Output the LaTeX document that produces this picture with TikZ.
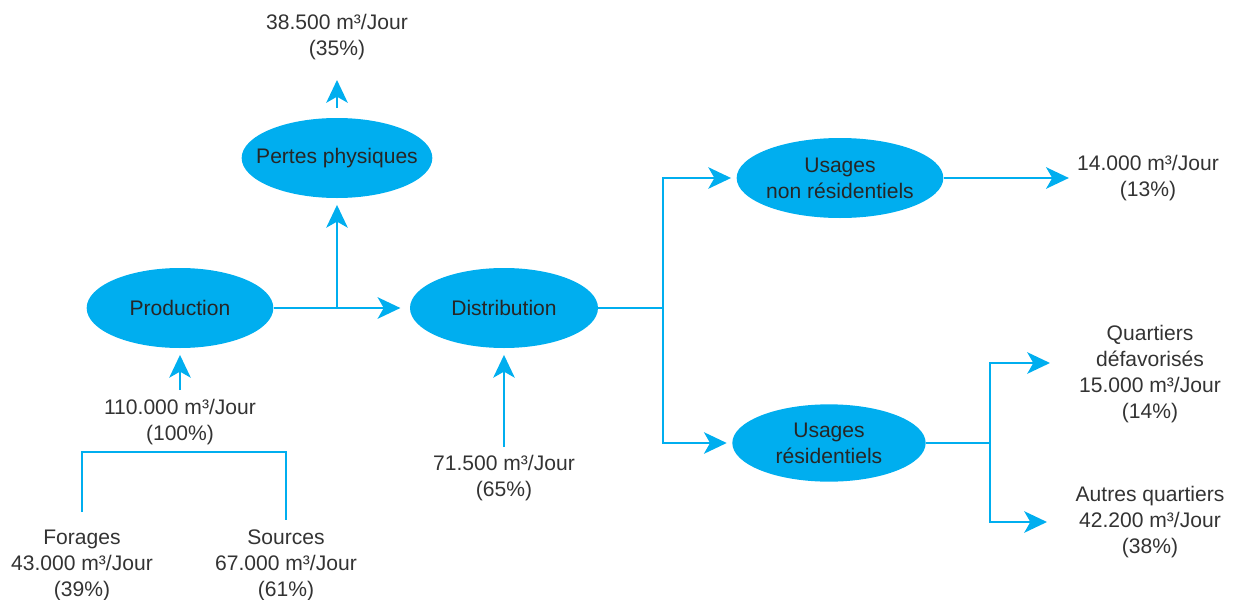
\documentclass[tikz,border=0pt]{standalone}
\usepackage{fontspec}
\setmainfont{Liberation Sans}
\usetikzlibrary{arrows.meta,shapes.geometric}
\definecolor{cyanb}{HTML}{00AEEF}
\definecolor{txt}{HTML}{333333}
\begin{document}
\begin{tikzpicture}[x=0.75pt,y=-0.75pt,
 every node/.style={font=\fontsize{15.8pt}{19.5pt}\selectfont, text=txt},
 bub/.style={ellipse, fill=cyanb, inner xsep=-40pt, inner ysep=-20pt, minimum height=60pt, align=center, text=black!85},
 lbl/.style={align=center, inner sep=0pt},
 ln/.style={draw=cyanb, line width=2.2pt},
 arr/.style={ln, -{Stealth[length=17pt,width=16pt,inset=4.5pt]}}]
\useasboundingbox (0,0) rectangle (1233,600);

% bubbles
\node[bub, minimum width=143pt] (pertes) at (337,158) {Pertes physiques};
\node[bub, minimum width=140pt] (prod) at (180,308) {Production};
\node[bub, minimum width=141pt] (dist) at (504,308) {Distribution};
\node[bub, minimum width=155pt] (unr) at (840,178) {Usages\\non résidentiels};
\node[bub, minimum width=145pt, minimum height=58pt] (ur) at (829,443) {Usages\\résidentiels};

% labels
\node[lbl] (l385) at (337,37) {38.500 m³/Jour\\(35\%)};
\node[lbl] (l110) at (180,422) {110.000 m³/Jour\\(100\%)};
\node[lbl] (forages) at (82,565) {Forages\\43.000 m³/Jour\\(39\%)};
\node[lbl] (sources) at (286,565) {Sources\\67.000 m³/Jour\\(61\%)};
\node[lbl] (l715) at (504,478) {71.500 m³/Jour\\(65\%)};
\node[lbl] (l14) at (1148,178) {14.000 m³/Jour\\(13\%)};
\node[lbl] (quart) at (1150,374) {Quartiers\\défavorisés\\15.000 m³/Jour\\(14\%)};
\node[lbl] (autres) at (1150,522) {Autres quartiers\\42.200 m³/Jour\\(38\%)};

% coordinates
\coordinate (j1) at (337,308);
\coordinate (t385) at (337,80);
\coordinate (s110) at (180,390);
\coordinate (s715) at (504,447);
\coordinate (fb) at (82,512);
\coordinate (sb) at (286,520);
\coordinate (bt) at (184,452);
\coordinate (j2) at (663,308);
\coordinate (j3) at (990,443);
\coordinate (tq) at (1050,363);
\coordinate (ta) at (1047,522);

% connectors
\draw[arr, shorten >=7pt] (prod) -- (dist);
\draw[arr, shorten >=5pt] (j1) -- (pertes);
\draw[arr, shorten <=7.5pt] (pertes.north) -- (t385);
\draw[arr, shorten >=5pt] (s110) -- (prod.south);
\draw[arr, shorten >=5pt] (s715) -- (dist.south);
\draw[ln] (fb) |- (bt) -| (sb);
\draw[ln] (dist.east) -- (j2);
\draw[arr, shorten >=4pt] (j2) |- (unr.west);
\draw[arr, shorten >=4pt] (j2) |- (ur.west);
\draw[arr, shorten >=6pt] (unr.east) -- (l14.west);
\draw[ln] (ur.east) -- (j3);
\draw[arr] (j3) |- (tq);
\draw[arr] (j3) |- (ta);
\end{tikzpicture}
\end{document}
